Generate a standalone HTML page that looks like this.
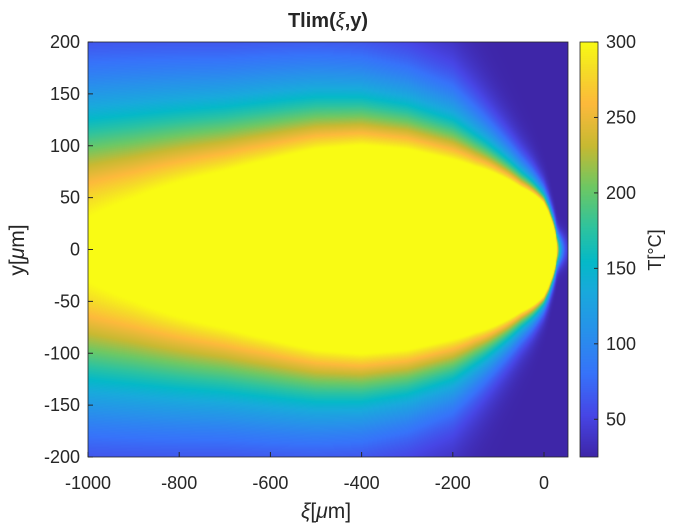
<!DOCTYPE html>
<html><head><meta charset="utf-8"><style>
body{margin:0;background:#fff;width:700px;height:525px;overflow:hidden;font-family:"Liberation Sans",Arial,sans-serif}
svg text{font-family:"Liberation Sans",Arial,sans-serif;fill:#262626}
</style></head><body>
<div style="position:relative;width:700px;height:525px">
<canvas id="hm" width="480" height="415" style="position:absolute;left:88px;top:42px"></canvas>
<canvas id="cb" width="18" height="415" style="position:absolute;left:580px;top:42px"></canvas>
<svg id="ov" width="700" height="525" style="position:absolute;left:0;top:0"></svg>
</div>
<script>
// column positions along xi (µm)
const xiCols = [-1000,-900,-800,-700,-600,-500,-400,-300,-200,-150,-100,-50,-25,0,10,20,25,28,35,50];
// peak (unclipped) temperature at y=0 for each column (°C)
const peakT = [313,338,372,408,455,518,563,577,577,650,817,1064,1360,2014,1675,1040,577,300,150,50];
// gaussian half-width of the lateral profile (µm)
const widthL = [140,138,135,132,130,127,123,116,104,88,70,52,43,32,27,21,18,16,14,14];
const xTicks = [-1000,-800,-600,-400,-200,0];
const yTicks = [-200,-150,-100,-50,0,50,100,150,200];
const cTicks = [50,100,150,200,250,300];

const X0=88,W=480,Y0=42,H=415;
const xMin=-1000,xMax=52.6,yMin=-200,yMax=200,tMin=25,tMax=300;
const sx=v=>X0+(v-xMin)/(xMax-xMin)*W;
const sy=v=>Y0+(yMax-v)/(yMax-yMin)*H;
const sc=v=>Y0+(tMax-v)/(tMax-tMin)*H;

const stops=[[0,62,38,168],[0.10,71,70,230],[0.20,55,115,250],[0.30,40,145,235],[0.40,25,170,220],[0.47,5,185,200],[0.55,45,195,160],[0.65,110,200,100],[0.75,200,185,50],[0.85,253,185,60],[0.93,245,220,40],[1,249,251,20]];
function cmap(t){t=Math.max(0,Math.min(1,t));for(let i=1;i<stops.length;i++){if(t<=stops[i][0]){const a=stops[i-1],b=stops[i],f=(t-a[0])/(b[0]-a[0]);return [a[1]+f*(b[1]-a[1]),a[2]+f*(b[2]-a[2]),a[3]+f*(b[3]-a[3])];}}return stops[stops.length-1].slice(1);}
function colParams(xi){let i=0;while(i<xiCols.length-2&&xi>xiCols[i+1])i++;let f=(xi-xiCols[i])/(xiCols[i+1]-xiCols[i]);f=Math.max(0,Math.min(1,f));
 const la=Math.log(peakT[i]-tMin),lb=Math.log(peakT[i+1]-tMin);
 return [Math.exp(la+f*(lb-la)),widthL[i]+f*(widthL[i+1]-widthL[i])];}
(function(){const c=document.getElementById('hm').getContext('2d');const img=c.createImageData(W,H);
 for(let px=0;px<W;px++){const xi=xMin+(px+0.5)/W*(xMax-xMin);const [A,L]=colParams(xi);
  for(let py=0;py<H;py++){const y=yMax-(py+0.5)/H*(yMax-yMin);let T=tMin+A*Math.exp(-(y/L)*(y/L));T=Math.min(tMax,T);
   const col=cmap((T-tMin)/(tMax-tMin));const k=(py*W+px)*4;img.data[k]=col[0];img.data[k+1]=col[1];img.data[k+2]=col[2];img.data[k+3]=255;}}
 c.putImageData(img,0,0);
 const cb=document.getElementById('cb').getContext('2d');for(let py=0;py<H;py++){const col=cmap(1-(py+0.5)/H);cb.fillStyle=`rgb(${col[0]|0},${col[1]|0},${col[2]|0})`;cb.fillRect(0,py,18,1);}
})();
const NS='http://www.w3.org/2000/svg',ov=document.getElementById('ov');
function mk(tag,attrs,txt){const e=document.createElementNS(NS,tag);for(const k in attrs)e.setAttribute(k,attrs[k]);if(txt!==undefined)e.textContent=txt;ov.appendChild(e);return e;}
xTicks.forEach(v=>{const x=sx(v);
 const t=mk('line',{x1:x,x2:x,y1:Y0+H,y2:Y0+H-5,stroke:'#262626'});
 
 
 const l=mk('text',{x:x,y:489,'text-anchor':'middle','font-size':'18'},v);
 
 });
yTicks.forEach(v=>{const y=sy(v);
 const t=mk('line',{x1:X0,x2:X0+5,y1:y,y2:y,stroke:'#262626'});
 
 
 const l=mk('text',{x:80,y:y+6,'text-anchor':'end','font-size':'18'},v);
 
 });
cTicks.forEach(v=>{const y=sc(v);
 const t=mk('line',{x1:594,x2:598,y1:y,y2:y,stroke:'#262626'});
 
 
 const l=mk('text',{x:606,y:y+6,'font-size':'18'},v);
 
 });
</script>
<svg width="700" height="525" style="position:absolute;left:0;top:0;pointer-events:none">
<rect x="88" y="42" width="480" height="415" fill="none" stroke="#262626" stroke-width="0.8"/>
<rect x="580" y="42" width="18" height="415" fill="none" stroke="#262626" stroke-width="0.8"/>
<text x="328" y="27" text-anchor="middle" font-size="20" font-weight="bold" fill="#000">Tlim(<tspan font-style="italic" font-weight="normal">ξ</tspan>,y)</text>
<text x="326" y="518" text-anchor="middle" font-size="21" fill="#262626"><tspan font-style="italic">ξ</tspan>[<tspan font-style="italic">μ</tspan>m]</text>
<text transform="translate(24,250) rotate(-90)" text-anchor="middle" font-size="21" fill="#262626">y[<tspan font-style="italic">μ</tspan>m]</text>
<text transform="translate(661,250) rotate(-90)" text-anchor="middle" font-size="18" fill="#262626">T[°C]</text>
</svg>
</body></html>
